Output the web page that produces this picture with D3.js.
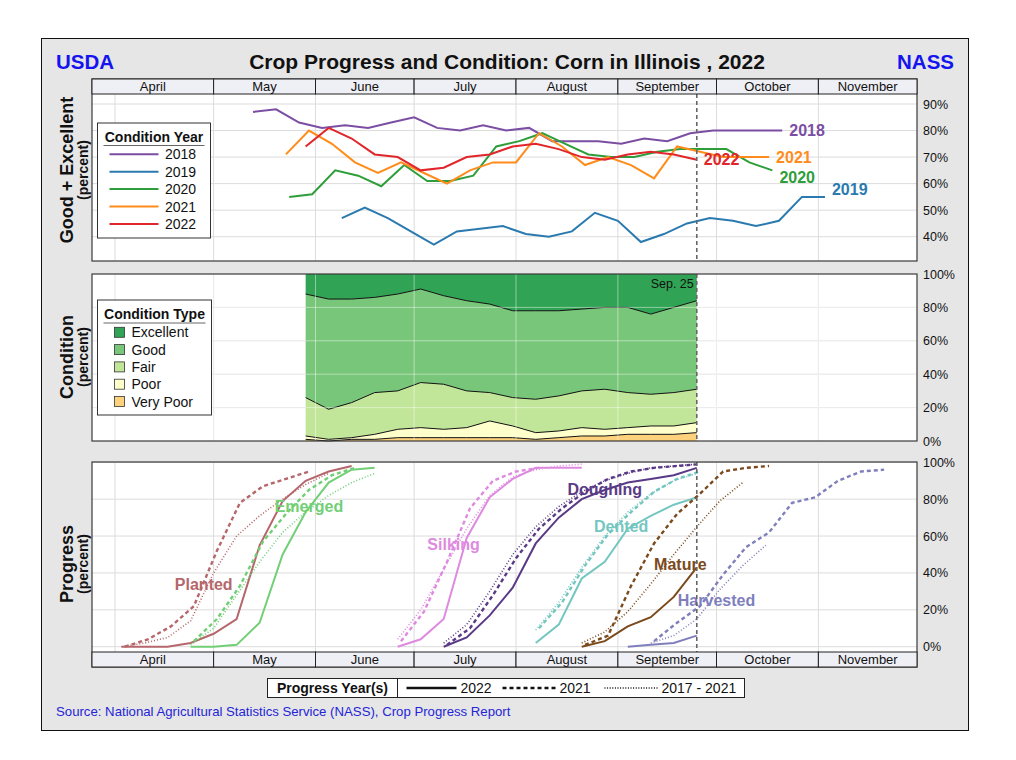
<!DOCTYPE html>
<html>
<head>
<meta charset="utf-8">
<script src="https://cdn.jsdelivr.net/npm/d3@7"></script>
<style>
  body { margin: 0; background: #fff; }
  text { font-family: "Liberation Sans", Arial, sans-serif; }
</style>
</head>
<body>
<div id="chart"></div>
<script>
// ---- Good + Excellent by condition year (weekly, plotted on 2022 calendar) ----
const conditionYears = ["2018", "2019", "2020", "2021", "2022"];
const conditionStarts = ["2022-05-13", "2022-06-09", "2022-05-24", "2022-05-23", "2022-05-29"];
const ge2018 = [87, 88, 83, 81, 82, 81, 83, 85, 81, 80, 82, 80, 81, 76, 76, 76, 75, 77, 76, 79, 80, 80, 80, 80];
const ge2019 = [47, 51, 47, 42, 37, 42, 43, 44, 41, 40, 42, 49, 46, 38, 41, 45, 47, 46, 44, 46, 55, 55];
const ge2020 = [55, 56, 65, 63, 59, 67, 61, 61, 63, 74, 76, 79, 75, 71, 70, 70, 72, 73, 73, 73, 68, 65];
const ge2021 = [71, 80, 75, 68, 64, 68, 64, 60, 65, 68, 68, 79, 74, 67, 70, 67, 62, 74, 72, 70, 70, 70];
const ge2022 = [74, 81, 77, 71, 70, 65, 66, 70, 71, 74, 75, 73, 70, 69, 71, 72, 71, 69];

// ---- 2022 condition shares (weeks May 29 - Sep 25) ----
const conditionStart = "2022-05-29";
const condTypes = ["Excellent", "Good", "Fair", "Poor", "Very Poor"];
const condExcellent = [12, 15, 15, 14, 12, 9, 13, 16, 18, 22, 22, 22, 21, 20, 20, 24, 20, 16];
const condGood = [62, 66, 62, 57, 58, 56, 53, 54, 53, 52, 53, 51, 49, 49, 51, 48, 51, 53];
const condFair = [23, 18, 21, 25, 23, 27, 27, 22, 17, 17, 20, 21, 22, 24, 21, 19, 20, 20];
const condPoor = [2, 1, 1, 3, 5, 6, 5, 6, 10, 7, 4, 4, 5, 4, 4, 5, 5, 6];
const condVeryPoor = [1, 0, 1, 1, 2, 2, 2, 2, 2, 2, 1, 2, 3, 3, 4, 4, 4, 5];

// ---- progress stages: [start week, values] for 2022, 2021, 2017-2021 average ----
const stages = ["Planted", "Emerged", "Silking", "Doughing", "Dented", "Mature", "Harvested"];
const planted2022 = ["2022-04-03", [0, 0, 0, 2, 7, 15, 55, 79, 90, 95, 98]];
const planted2021 = ["2022-04-04", [0, 4, 11, 22, 52, 78, 87, 91, 95]];
const plantedAvg = ["2022-04-03", [0, 2, 5, 14, 40, 60, 71, 80, 88, 94]];
const emerged2022 = ["2022-04-24", [0, 0, 1, 13, 50, 73, 89, 96, 97]];
const emerged2021 = ["2022-04-25", [3, 15, 33, 57, 72, 85, 93, 97]];
const emergedAvg = ["2022-04-24", [1, 10, 28, 46, 62, 73, 82, 89, 94]];
const silking2022 = ["2022-06-26", [0, 4, 15, 59, 81, 91, 97, 97, 97]];
const silking2021 = ["2022-06-27", [3, 19, 46, 75, 90, 95, 97]];
const silkingAvg = ["2022-06-26", [4, 20, 42, 64, 82, 92, 96, 98, 99]];
const doughing2022 = ["2022-07-10", [0, 5, 17, 32, 56, 70, 80, 85, 89, 91, 93, 97]];
const doughing2021 = ["2022-07-11", [1, 10, 28, 48, 64, 75, 84, 91, 95, 97, 98, 99]];
const doughingAvg = ["2022-07-10", [2, 12, 30, 50, 65, 76, 84, 90, 94, 97, 98, 99]];
const dented2022 = ["2022-08-07", [2, 12, 37, 46, 64, 71, 77, 81]];
const dented2021 = ["2022-08-08", [10, 24, 44, 61, 73, 84, 91, 95]];
const dentedAvg = ["2022-08-07", [9, 24, 43, 60, 73, 83, 90, 94]];
const mature2022 = ["2022-08-21", [0, 3, 11, 16, 27, 43]];
const mature2021 = ["2022-08-22", [1, 6, 33, 56, 72, 83, 95, 97, 98]];
const matureAvg = ["2022-08-21", [2, 8, 19, 34, 50, 65, 79, 89]];
const harvested2022 = ["2022-09-04", [0, 1, 2, 6]];
const harvested2021 = ["2022-09-12", [3, 13, 22, 39, 54, 62, 78, 81, 90, 95, 96]];
const harvestedAvg = ["2022-09-11", [2, 6, 15, 31, 44, 55]];

const yTicksTop = [90, 80, 70, 60, 50, 40];
const yTicksPct = [100, 80, 60, 40, 20, 0];
const progressYears = ["2022", "2021", "2017 - 2021"];

// ---- setup ----
const W = 1016, H = 760;
const parse = d3.timeParse("%Y-%m-%d");
const weekly = (start, vals) => vals.map((v, i) => ({ date: d3.timeDay.offset(parse(start), 7 * i), value: v }));

const svg = d3.select("#chart").append("svg").attr("width", W).attr("height", H);

svg.append("rect").attr("x", 41.5).attr("y", 38.5).attr("width", 927).attr("height", 692)
  .attr("fill", "#e6e6e6").attr("stroke", "#111");

const L = 92, R = 917;
const x = d3.scaleTime().domain([parse("2022-03-25"), parse("2022-12-01")]).range([L, R]);
const monthStarts = d3.timeMonth.range(parse("2022-04-01"), parse("2022-12-01"));
const bandEdges = [x.domain()[0]].concat(monthStarts.slice(1)).concat([x.domain()[1]]);
const sepDate = parse("2022-09-25");

// panel geometry
const P1 = { head: 79, top: 94, bottom: 261 };
const P2 = { top: 274, bottom: 441 };
const P3 = { top: 462, bottom: 652, head: 667 };

const yTop = d3.scaleLinear().domain([40, 90]).range([236.7, 104]);
const yMid = d3.scaleLinear().domain([0, 100]).range([P2.bottom, P2.top]);
const yBot = d3.scaleLinear().domain([0, 100]).range([646.7, 462.3]);

const gridColor = "#dcdcdc";

function plotBg(y0, y1) {
  svg.append("rect").attr("x", L).attr("y", y0).attr("width", R - L).attr("height", y1 - y0).attr("fill", "#fff");
}
function grid(y0, y1, yScale, ticks, color, opacity) {
  const g = svg.append("g").attr("stroke", color).attr("stroke-opacity", opacity).attr("stroke-width", 1);
  g.selectAll("line.v").data(monthStarts).enter().append("line")
    .attr("x1", d => x(d)).attr("x2", d => x(d)).attr("y1", y0).attr("y2", y1);
  g.selectAll("line.h").data(ticks).enter().append("line")
    .attr("x1", L).attr("x2", R).attr("y1", d => yScale(d)).attr("y2", d => yScale(d));
}
function border(y0, y1) {
  svg.append("rect").attr("x", L).attr("y", y0).attr("width", R - L).attr("height", y1 - y0)
    .attr("fill", "none").attr("stroke", "#3a3a3a").attr("stroke-width", 1.2);
}
function monthHeader(y0, y1) {
  const g = svg.append("g");
  const bands = d3.pairs(bandEdges);
  g.selectAll("rect").data(bands).enter().append("rect")
    .attr("x", d => x(d[0])).attr("y", y0).attr("width", d => x(d[1]) - x(d[0])).attr("height", y1 - y0)
    .attr("fill", "#efeff6").attr("stroke", "#222").attr("stroke-width", 1);
  g.selectAll("text").data(bands).enter().append("text")
    .attr("x", d => (x(d[0]) + x(d[1])) / 2).attr("y", (y0 + y1) / 2 + 4.6)
    .attr("text-anchor", "middle").attr("font-size", 13).attr("fill", "#111")
    .text(d => d3.timeFormat("%B")(d3.timeDay.offset(d[1], -1)));
}
function rightAxis(yScale, ticks) {
  svg.append("g").attr("transform", `translate(${R},0)`)
    .call(d3.axisRight(yScale).tickValues(ticks).tickSize(0).tickPadding(6).tickFormat(d => d + "%"))
    .call(g => g.select(".domain").remove())
    .call(g => g.selectAll("text").attr("font-size", 12.5).attr("fill", "#111")
      .attr("font-family", "Liberation Sans, Arial, sans-serif"));
}
function sideTitle(cy, main) {
  svg.append("text").attr("transform", `translate(73,${cy}) rotate(-90)`).attr("text-anchor", "middle")
    .attr("font-size", 18).attr("font-weight", "bold").attr("fill", "#111").text(main);
  svg.append("text").attr("transform", `translate(88,${cy}) rotate(-90)`).attr("text-anchor", "middle")
    .attr("font-size", 14).attr("font-weight", "bold").attr("fill", "#111").text("(percent)");
}
function sepLine(y0, y1) {
  svg.append("line").attr("x1", x(sepDate)).attr("x2", x(sepDate)).attr("y1", y0).attr("y2", y1)
    .attr("stroke", "#666").attr("stroke-width", 1.6).attr("stroke-dasharray", "4,3");
}

// ---- titles ----
svg.append("text").attr("x", 507).attr("y", 68.5).attr("text-anchor", "middle").attr("font-size", 21)
  .attr("font-weight", "bold").attr("fill", "#111").text("Crop Progress and Condition: Corn in Illinois , 2022");
svg.append("text").attr("x", 56).attr("y", 68.5).attr("font-size", 20.5).attr("font-weight", "bold")
  .attr("fill", "#1414f0").text("USDA");
svg.append("text").attr("x", 954).attr("y", 68.5).attr("text-anchor", "end").attr("font-size", 20.5)
  .attr("font-weight", "bold").attr("fill", "#1414f0").text("NASS");

// ---- panel 1: Good + Excellent ----
const yearColors = ["#7b4ea3", "#2a7ab0", "#2e9e3a", "#ff8c1a", "#e0262a"];
const geSeries = [ge2018, ge2019, ge2020, ge2021, ge2022].map((vals, i) => ({
  year: conditionYears[i], color: yearColors[i], points: weekly(conditionStarts[i], vals)
}));
const labelDy = { "2018": 0, "2019": -7, "2020": 7, "2021": 0, "2022": 0 };

plotBg(P1.top, P1.bottom);
grid(P1.top, P1.bottom, yTop, yTicksTop, gridColor, 1);
const lineTop = d3.line().x(d => x(d.date)).y(d => yTop(d.value));
svg.append("g").selectAll("path").data(geSeries).enter().append("path")
  .attr("d", d => lineTop(d.points)).attr("fill", "none").attr("stroke", d => d.color).attr("stroke-width", 2);
svg.append("g").selectAll("text").data(geSeries).enter().append("text")
  .attr("x", d => x(d.points[d.points.length - 1].date) + 7)
  .attr("y", d => yTop(d.points[d.points.length - 1].value) + labelDy[d.year] + 5.5)
  .attr("font-size", 16).attr("font-weight", "bold").attr("fill", d => d.color).text(d => d.year);
sepLine(P1.top, P1.bottom);
border(P1.head, P1.bottom);
monthHeader(P1.head, P1.top);
rightAxis(yTop, yTicksTop);
sideTitle(170, "Good + Excellent");

// legend: Condition Year
const lg1 = svg.append("g").attr("transform", "translate(97.5,123)");
lg1.append("rect").attr("width", 113).attr("height", 115).attr("fill", "#fff").attr("stroke", "#333");
lg1.append("text").attr("x", 56.5).attr("y", 19).attr("text-anchor", "middle").attr("font-size", 14)
  .attr("font-weight", "bold").attr("fill", "#111").text("Condition Year");
lg1.append("line").attr("x1", 6).attr("x2", 107).attr("y1", 22.5).attr("y2", 22.5).attr("stroke", "#666");
geSeries.forEach((s, i) => {
  const cy = 31.3 + i * 17.4;
  lg1.append("line").attr("x1", 12).attr("x2", 61).attr("y1", cy).attr("y2", cy)
    .attr("stroke", s.color).attr("stroke-width", 2);
  lg1.append("text").attr("x", 67.5).attr("y", cy + 5).attr("font-size", 14).attr("fill", "#111").text(s.year);
});

// ---- panel 2: condition stack ----
const condColors = { "Excellent": "#31a354", "Good": "#78c679", "Fair": "#c2e699", "Poor": "#ffffcc", "Very Poor": "#fed27c" };
const condRows = weekly(conditionStart, condExcellent).map((d, i) => ({
  date: d.date, "Very Poor": condVeryPoor[i], "Poor": condPoor[i], "Fair": condFair[i],
  "Good": condGood[i], "Excellent": condExcellent[i]
}));
const stackKeys = condTypes.slice().reverse();
const stacked = d3.stack().keys(stackKeys)(condRows);

plotBg(P2.top, P2.bottom);
grid(P2.top, P2.bottom, yMid, [20, 40, 60, 80], gridColor, 1);
const area = d3.area().x(d => x(d.data.date)).y0(d => yMid(d[0])).y1(d => yMid(d[1]));
svg.append("g").selectAll("path").data(stacked).enter().append("path")
  .attr("d", area).attr("fill", d => condColors[d.key]);
const topLine = d3.line().x(d => x(d.data.date)).y(d => yMid(d[1]));
svg.append("g").selectAll("path").data(stacked.slice(0, 4)).enter().append("path")
  .attr("d", topLine).attr("fill", "none").attr("stroke", "#111").attr("stroke-width", 1);
grid(P2.top, P2.bottom, yMid, [20, 40, 60, 80], "#fff", 0.45);
sepLine(P2.top, P2.bottom);
border(P2.top, P2.bottom);
svg.append("text").attr("x", x(sepDate) - 3).attr("y", P2.top + 14).attr("text-anchor", "end")
  .attr("font-size", 12.5).attr("fill", "#111").text("Sep. 25");
rightAxis(yMid, yTicksPct);
sideTitle(357, "Condition");

// legend: Condition Type
const lg2 = svg.append("g").attr("transform", "translate(97.5,300)");
lg2.append("rect").attr("width", 114).attr("height", 115).attr("fill", "#fff").attr("stroke", "#333");
lg2.append("text").attr("x", 57).attr("y", 19).attr("text-anchor", "middle").attr("font-size", 14)
  .attr("font-weight", "bold").attr("fill", "#111").text("Condition Type");
lg2.append("line").attr("x1", 6).attr("x2", 108).attr("y1", 23).attr("y2", 23).attr("stroke", "#666");
condTypes.forEach((k, i) => {
  const cy = 32.3 + i * 17.3;
  lg2.append("rect").attr("x", 17).attr("y", cy - 5).attr("width", 10).attr("height", 10)
    .attr("fill", condColors[k]).attr("stroke", "#333").attr("stroke-width", 0.8);
  lg2.append("text").attr("x", 34).attr("y", cy + 5).attr("font-size", 14).attr("fill", "#111").text(k);
});

// ---- panel 3: progress ----
const stageColors = ["#b5676b", "#72cf76", "#de8ae0", "#5a3a86", "#74c7c0", "#7a4a1c", "#7f7fbd"];
const stageData = [
  [planted2022, planted2021, plantedAvg],
  [emerged2022, emerged2021, emergedAvg],
  [silking2022, silking2021, silkingAvg],
  [doughing2022, doughing2021, doughingAvg],
  [dented2022, dented2021, dentedAvg],
  [mature2022, mature2021, matureAvg],
  [harvested2022, harvested2021, harvestedAvg]
];
const yearStyles = [
  { width: 2, dash: null },
  { width: 2.4, dash: "4,3" },
  { width: 1.6, dash: "1,2" }
];
// label anchor: [date, percent]
const stageLabels = [
  ["2022-04-28", 34], ["2022-05-30", 76], ["2022-07-13", 55.5], ["2022-08-28", 85.4],
  ["2022-09-02", 65], ["2022-09-20", 44.8], ["2022-10-01", 24.8]
];

plotBg(P3.top, P3.bottom);
grid(P3.top, P3.bottom, yBot, [0, 20, 40, 60, 80, 100], gridColor, 1);
const lineBot = d3.line().x(d => x(d.date)).y(d => yBot(d.value));
const progSeries = [];
stageData.forEach((triple, si) => {
  triple.forEach((s, yi) => {
    progSeries.push({ stage: stages[si], color: stageColors[si], style: yearStyles[yi], points: weekly(s[0], s[1]) });
  });
});
svg.append("g").selectAll("path").data(progSeries).enter().append("path")
  .attr("d", d => lineBot(d.points)).attr("fill", "none").attr("stroke", d => d.color)
  .attr("stroke-width", d => d.style.width).attr("stroke-dasharray", d => d.style.dash);
svg.append("g").selectAll("text").data(stages).enter().append("text")
  .attr("x", (d, i) => x(parse(stageLabels[i][0])))
  .attr("y", (d, i) => yBot(stageLabels[i][1]) + 5.5)
  .attr("text-anchor", "middle").attr("font-size", 16).attr("font-weight", "bold")
  .attr("fill", (d, i) => stageColors[i]).text(d => d);
sepLine(P3.top, P3.bottom);
border(P3.top, P3.head);
monthHeader(P3.bottom, P3.head);
rightAxis(yBot, yTicksPct);
sideTitle(564, "Progress");

// legend: Progress Year(s)
const lg3 = svg.append("g").attr("transform", "translate(267.5,678.5)");
lg3.append("rect").attr("width", 477).attr("height", 19).attr("fill", "#fff").attr("stroke", "#222");
lg3.append("line").attr("x1", 130).attr("x2", 130).attr("y1", 0).attr("y2", 19).attr("stroke", "#222");
lg3.append("text").attr("x", 65).attr("y", 14.5).attr("text-anchor", "middle").attr("font-size", 14)
  .attr("font-weight", "bold").attr("fill", "#111").text("Progress Year(s)");
const lgX = [139, 235, 337];
progressYears.forEach((yr, i) => {
  lg3.append("line").attr("x1", lgX[i]).attr("x2", lgX[i] + (i === 0 ? 50 : 53)).attr("y1", 9.5).attr("y2", 9.5)
    .attr("stroke", "#111").attr("stroke-width", i === 0 ? 2.6 : (i === 1 ? 2.6 : 1.4))
    .attr("stroke-dasharray", i === 0 ? null : (i === 1 ? "4,3" : "1,1.6"));
  lg3.append("text").attr("x", lgX[i] + (i === 0 ? 54 : 57)).attr("y", 14.5).attr("font-size", 14)
    .attr("fill", "#111").text(yr);
});

svg.append("text").attr("x", 56).attr("y", 716).attr("font-size", 13.2).attr("fill", "#2424d8")
  .text("Source: National Agricultural Statistics Service (NASS), Crop Progress Report");
</script>
</body>
</html>
